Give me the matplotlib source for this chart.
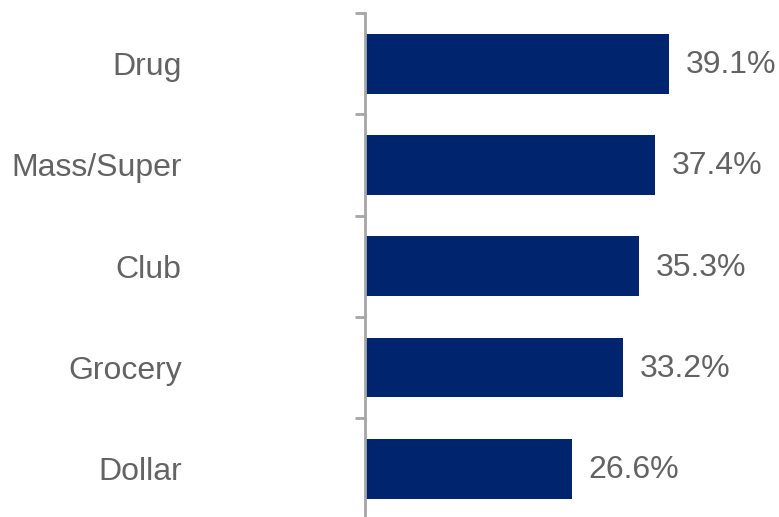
import matplotlib.pyplot as plt
from matplotlib.ticker import FixedLocator

plt.rcParams['font.family'] = ['Liberation Sans', 'DejaVu Sans']

channels = ['Drug', 'Mass/Super', 'Club', 'Grocery', 'Dollar']
shares = [39.1, 37.4, 35.3, 33.2, 26.6]

bar_color = '#00246E'
text_color = '#636363'
axis_color = '#A6A6A6'

fig = plt.figure(figsize=(7.79, 5.17), dpi=100)
ax = fig.add_axes([365 / 779, -2.5 / 517, 414 / 779, 506.5 / 517])

pos = list(range(len(channels)))
ax.barh(pos, shares, height=0.59, color=bar_color)

for y, v in zip(pos, shares):
    ax.annotate(f'{v:.1f}%', xy=(v, y), xytext=(12, -1), textcoords='offset points',
                ha='left', va='center', fontsize=23, color=text_color)

ax.set_xlim(0, 53.3)
ax.set_ylim(len(channels) - 0.5, -0.5)

# category labels at the centres, separator ticks between the bars
ax.set_yticks(pos)
ax.set_yticklabels(channels, fontsize=23, color=text_color)
ax.tick_params(axis='y', which='major', length=0, pad=132)
ax.yaxis.set_minor_locator(FixedLocator([p - 0.5 for p in pos] + [len(pos) - 0.5]))
ax.tick_params(axis='y', which='minor', length=7, width=2, color=axis_color)

ax.set_xticks([])
for side in ['top', 'right', 'bottom']:
    ax.spines[side].set_visible(False)
ax.spines['left'].set_color(axis_color)
ax.spines['left'].set_linewidth(2)

fig.savefig('out.png', dpi=100)
